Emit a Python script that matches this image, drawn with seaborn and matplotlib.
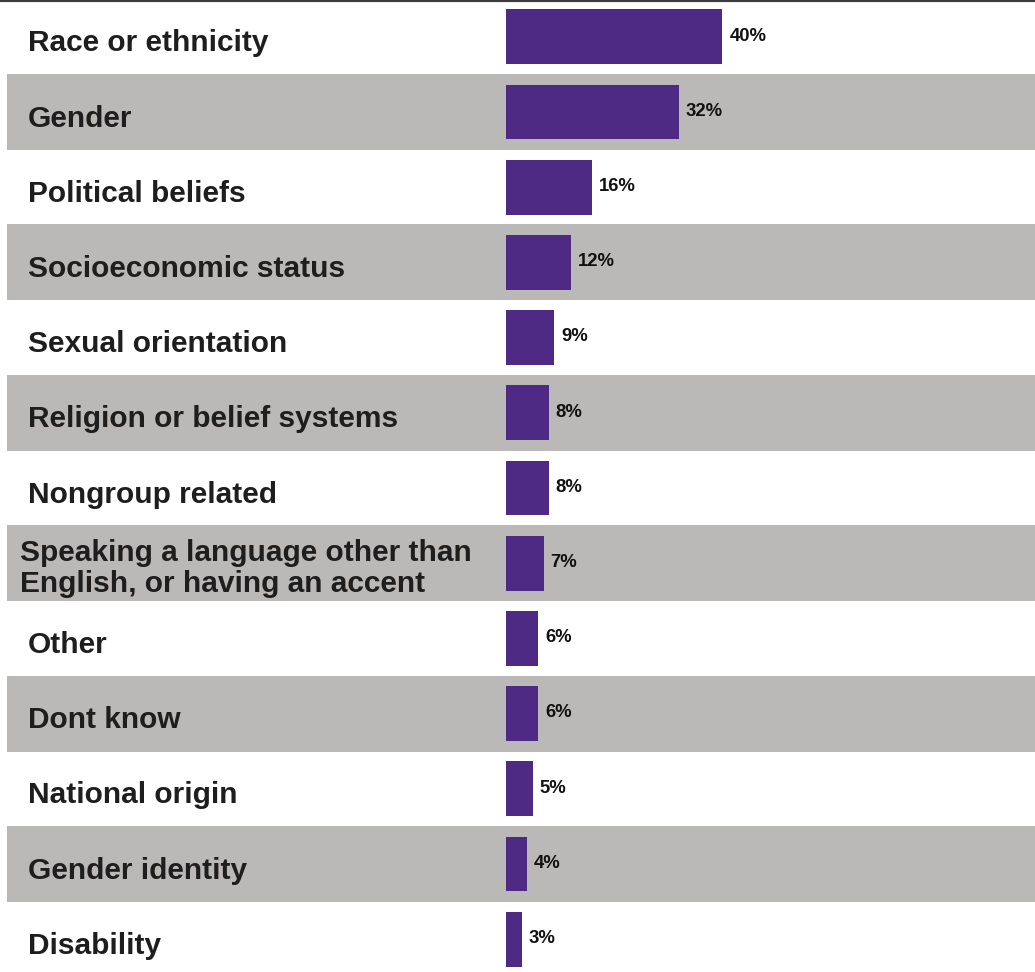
import matplotlib
matplotlib.use("Agg")
import matplotlib.pyplot as plt
import seaborn as sns
import pandas as pd

# Survey categories and share of respondents (%)
categories = [
    "Race or ethnicity",
    "Gender",
    "Political beliefs",
    "Socioeconomic status",
    "Sexual orientation",
    "Religion or belief systems",
    "Nongroup related",
    "Speaking a language other than\nEnglish, or having an accent",
    "Other",
    "Dont know",
    "National origin",
    "Gender identity",
    "Disability",
]
values = [40, 32, 16, 12, 9, 8, 8, 7, 6, 6, 5, 4, 3]

BAR_COLOR = "#4E2A84"
BAND_COLOR = "#BAB9B7"
TEXT_COLOR = "#1E1E1E"

sns.set_theme(style="white")
plt.rcParams["font.family"] = ["Liberation Sans", "DejaVu Sans"]

df = pd.DataFrame({"category": categories, "value": values})

fig = plt.figure(figsize=(10.35, 9.72), dpi=100)
ax = fig.add_axes([0, 0, 1, 1])

# Alternating grey bands behind every other row
for i in range(len(categories)):
    if i % 2 == 1:
        ax.axhspan(i - 0.505, i + 0.505, xmin=7 / 1035, xmax=1.0,
                   color=BAND_COLOR, lw=0, zorder=0)

sns.barplot(data=df, y="category", x="value", orient="h", order=categories,
            color=BAR_COLOR, saturation=1, width=0.73, linewidth=0,
            edgecolor="none", ax=ax, zorder=2)

ax.set_xlim(-93.3, 97.7)
ax.set_ylim(12.436, -0.489)

# Category labels on the left (baseline placed slightly below row centre)
ytrans = ax.get_yaxis_transform()
for i, label in enumerate(categories):
    if "\n" in label:
        ax.text(20 / 1035, i + 0.383, label, transform=ytrans, ha="left",
                va="baseline", fontsize=21.5, fontweight="bold",
                color=TEXT_COLOR, linespacing=1.15, zorder=3)
    else:
        ax.text(28 / 1035, i + 0.195, label, transform=ytrans, ha="left",
                va="baseline", fontsize=21.5, fontweight="bold",
                color=TEXT_COLOR, zorder=3)

# Value labels just past each bar end
for i, v in enumerate(values):
    ax.annotate(f"{v}%", xy=(v, i), xytext=(5, 0.5), textcoords="offset points",
                ha="left", va="center", fontsize=13.3, fontweight="bold",
                color="#111111", zorder=3)

ax.set_xlabel("")
ax.set_ylabel("")
ax.set_xticks([])
ax.set_yticks([])
for side in ["left", "right", "bottom"]:
    ax.spines[side].set_visible(False)
ax.spines["top"].set_visible(True)
ax.spines["top"].set_color("#3C3C3C")
ax.spines["top"].set_linewidth(3)

fig.savefig("out.png", dpi=100, facecolor="white")
